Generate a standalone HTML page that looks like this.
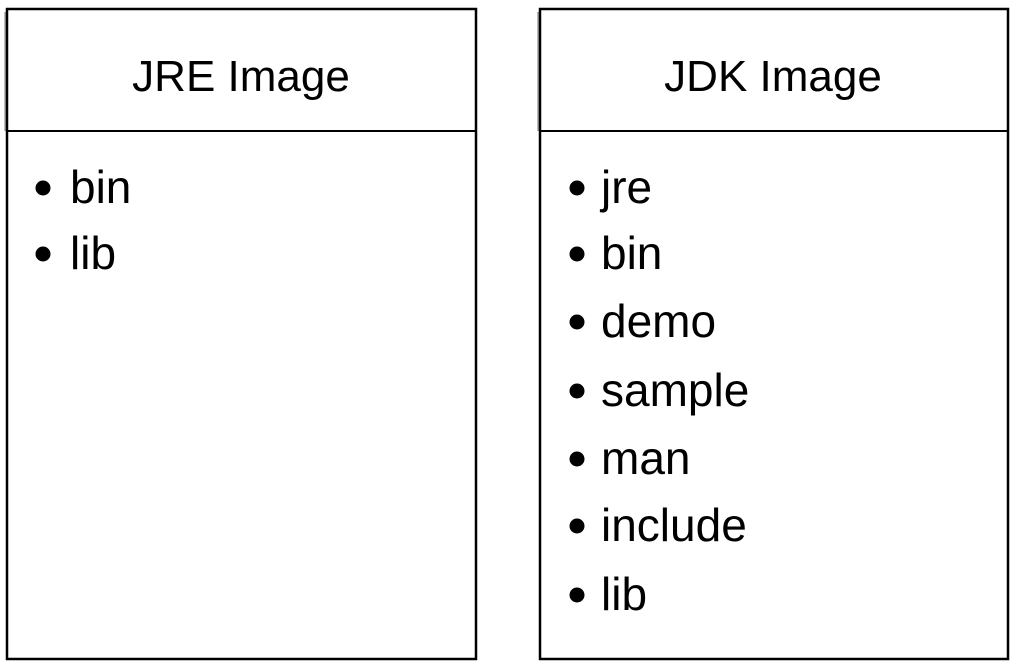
<!DOCTYPE html>
<html><head><style>body{margin:0;background:#fff;}svg{display:block}</style></head>
<body>
<svg width="1016" height="667" xmlns="http://www.w3.org/2000/svg" font-family="Liberation Sans, sans-serif" fill="#000">
<rect x="7" y="9" width="469" height="650" fill="none" stroke="#000" stroke-width="2.5"/>
<line x1="7" y1="131" x2="476" y2="131" stroke="#000" stroke-width="2"/>
<line x1="5" y1="12" x2="5" y2="131" stroke="#777" stroke-width="1"/>
<rect x="540" y="9" width="468" height="650" fill="none" stroke="#000" stroke-width="2.5"/>
<line x1="540" y1="131" x2="1008" y2="131" stroke="#000" stroke-width="2"/>
<line x1="538" y1="12" x2="538" y2="131" stroke="#777" stroke-width="1"/>
<text x="241" y="91" font-size="44" text-anchor="middle">JRE Image</text>
<text x="773" y="91" font-size="44" text-anchor="middle">JDK Image</text>
<g font-size="46">
<circle cx="43" cy="188" r="7.5"/><text x="70" y="203">bin</text>
<circle cx="43" cy="254" r="7.5"/><text x="70" y="269">lib</text>
<circle cx="577" cy="188" r="7.5"/><text x="601" y="203">jre</text>
<circle cx="577" cy="254" r="7.5"/><text x="601" y="269">bin</text>
<circle cx="577" cy="322" r="7.5"/><text x="601" y="337">demo</text>
<circle cx="577" cy="391" r="7.5"/><text x="601" y="406">sample</text>
<circle cx="577" cy="459" r="7.5"/><text x="601" y="474">man</text>
<circle cx="577" cy="526" r="7.5"/><text x="601" y="541">include</text>
<circle cx="577" cy="595" r="7.5"/><text x="601" y="610">lib</text>
</g>
</svg>
</body></html>
